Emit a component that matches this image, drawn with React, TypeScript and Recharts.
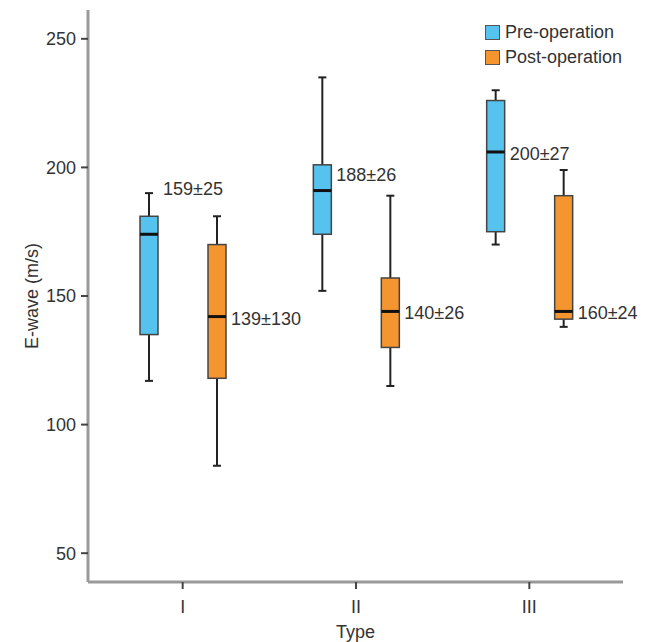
import { ComposedChart, Bar, XAxis, YAxis } from 'recharts'

const types = ['I', 'II', 'III']

// five-number summaries: [min, q1, median, q3, max]
const preOp = [
  [117, 135, 174, 181, 190],
  [152, 174, 191, 201, 235],
  [170, 175, 206, 226, 230],
]
const postOp = [
  [84, 118, 142, 170, 181],
  [115, 130, 144, 157, 189],
  [138, 141, 144, 189, 199],
]

const preLabels = ['159±25', '188±26', '200±27']
const postLabels = ['139±130', '140±26', '160±24']
// which statistic the text sits next to
const preLabelAt = ['max', 'q3', 'median']
const postLabelAt = ['median', 'median', 'median']

const yTicks = [50, 100, 150, 200, 250]

const BLUE = '#56C2EE'
const ORANGE = '#F4952F'
const FONT = '"Liberation Sans", Arial, Helvetica, sans-serif'

const data = types.map((t, i) => ({
  type: t,
  pre: [preOp[i][0], preOp[i][4]],
  post: [postOp[i][0], postOp[i][4]],
  preStats: preOp[i],
  postStats: postOp[i],
  preLabel: preLabels[i],
  postLabel: postLabels[i],
  preAt: preLabelAt[i],
  postAt: postLabelAt[i],
}))

const anchorIdx: Record<string, number> = { min: 0, q1: 1, median: 2, q3: 3, max: 4 }
const anchorDy: Record<string, number> = { max: -4, q3: 10, median: 2, q1: 0, min: 0 }

function makeBox(fill: string, key: 'pre' | 'post') {
  // eslint-disable-next-line @typescript-eslint/no-explicit-any
  return (props: any) => {
    const { x, y, width, height, payload } = props
    const s: number[] = payload[key + 'Stats']
    const top = Math.min(y, y + height)
    const bot = Math.max(y, y + height)
    const py = (v: number) => top + ((s[4] - v) / (s[4] - s[0])) * (bot - top)
    const cx = x + width / 2
    const at: string = payload[key + 'At']
    const ly = py(s[anchorIdx[at]]) + anchorDy[at]
    return (
      <g>
        <line x1={cx} x2={cx} y1={py(s[4])} y2={py(s[3])} stroke="#222" strokeWidth={2} />
        <line x1={cx} x2={cx} y1={py(s[1])} y2={py(s[0])} stroke="#222" strokeWidth={2} />
        <line x1={cx - 4} x2={cx + 4} y1={py(s[4])} y2={py(s[4])} stroke="#222" strokeWidth={2} />
        <line x1={cx - 4} x2={cx + 4} y1={py(s[0])} y2={py(s[0])} stroke="#222" strokeWidth={2} />
        <rect x={x} y={py(s[3])} width={width} height={py(s[1]) - py(s[3])} fill={fill} stroke="#444" strokeWidth={1.5} />
        <line x1={x} x2={x + width} y1={py(s[2])} y2={py(s[2])} stroke="#111" strokeWidth={3} />
        <text x={x + width + 5} y={ly} fontSize={18} fill="#333" fontFamily={FONT} dominantBaseline="central">
          {payload[key + 'Label']}
        </text>
      </g>
    )
  }
}

function LegendBox() {
  const items = [
    { name: 'Pre-operation', color: BLUE },
    { name: 'Post-operation', color: ORANGE },
  ]
  return (
    <div style={{ position: 'absolute', top: 20, left: 485, fontFamily: FONT, fontSize: 18, color: '#333' }}>
      {items.map((it) => (
        <div key={it.name} style={{ display: 'flex', alignItems: 'center', height: 25, whiteSpace: 'nowrap' }}>
          <span
            style={{
              display: 'inline-block',
              width: 15,
              height: 15,
              boxSizing: 'border-box',
              background: it.color,
              border: '1.5px solid #555',
              marginRight: 5,
            }}
          />
          {it.name}
        </div>
      ))}
    </div>
  )
}

export default function App() {
  const tick = { fill: '#333', fontSize: 18, fontFamily: FONT }
  return (
    <div style={{ position: 'absolute', left: 0, top: 0, width: 649, height: 642, background: '#fff', fontFamily: FONT }}>
      <ComposedChart
        width={649}
        height={642}
        data={data}
        margin={{ top: 10, right: 26, bottom: 0, left: 0 }}
        barGap={50}
        barSize={18}
      >
        <XAxis
          dataKey="type"
          padding={{ left: 8, right: 7 }}
          height={60}
          tickSize={7}
          tickMargin={11}
          tick={tick}
          axisLine={{ stroke: '#999', strokeWidth: 3 }}
          tickLine={{ stroke: '#444', strokeWidth: 2 }}
          label={{
            // eslint-disable-next-line @typescript-eslint/no-explicit-any
            content: ({ viewBox }: any) => {
              const vx = viewBox ? viewBox.x + viewBox.width / 2 : 356
              const vy = viewBox ? viewBox.y + 50 : 632
              return (
                <text x={vx} y={vy} textAnchor="middle" dominantBaseline="central" fontSize={18} fill="#333" fontFamily={FONT}>
                  Type
                </text>
              )
            },
          }}
        />
        <YAxis
          type="number"
          domain={[38.8, 261.2]}
          allowDataOverflow
          ticks={yTicks}
          width={88}
          tickSize={7}
          tickMargin={5}
          tick={tick}
          axisLine={{ stroke: '#999', strokeWidth: 3 }}
          tickLine={{ stroke: '#444', strokeWidth: 2 }}
          label={{
            // eslint-disable-next-line @typescript-eslint/no-explicit-any
            content: ({ viewBox }: any) => {
              const vx = viewBox ? viewBox.x + 32 : 32
              const vy = viewBox ? viewBox.y + viewBox.height / 2 : 296
              return (
                <text
                  x={vx}
                  y={vy}
                  transform={`rotate(-90 ${vx} ${vy})`}
                  textAnchor="middle"
                  dominantBaseline="central"
                  fontSize={18}
                  fill="#333"
                  fontFamily={FONT}
                >
                  E-wave (m/s)
                </text>
              )
            },
          }}
        />
        <Bar dataKey="pre" name="Pre-operation" fill={BLUE} shape={makeBox(BLUE, 'pre')} isAnimationActive={false} />
        <Bar dataKey="post" name="Post-operation" fill={ORANGE} shape={makeBox(ORANGE, 'post')} isAnimationActive={false} />
      </ComposedChart>
      <LegendBox />
    </div>
  )
}
